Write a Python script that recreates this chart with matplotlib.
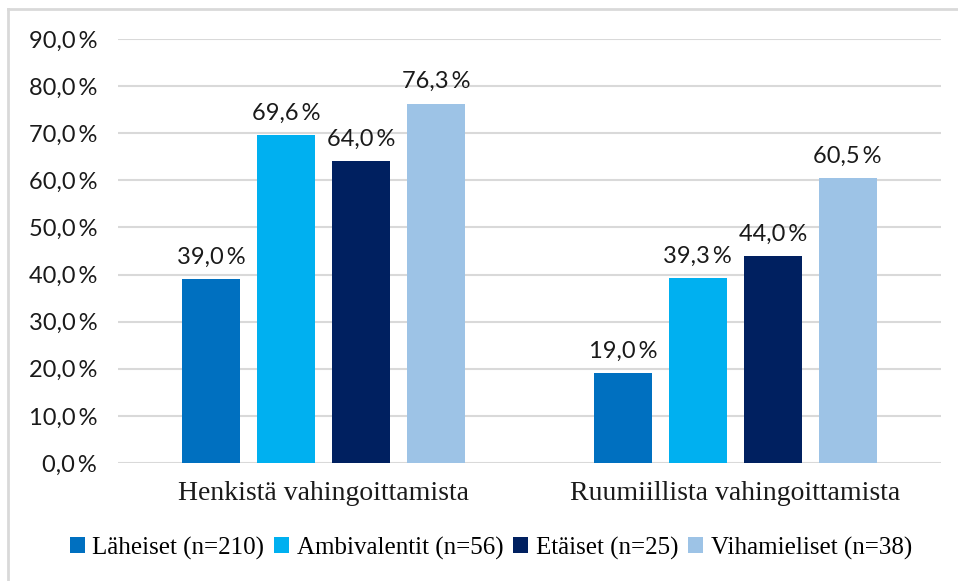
import matplotlib.pyplot as plt
from matplotlib.lines import Line2D
import numpy as np

categories = ['Henkistä vahingoittamista', 'Ruumiillista vahingoittamista']
series = ['Läheiset (n=210)', 'Ambivalentit (n=56)', 'Etäiset (n=25)', 'Vihamieliset (n=38)']
values = [
    [39.0, 19.0],
    [69.6, 39.3],
    [64.0, 44.0],
    [76.3, 60.5],
]
colors = ['#0070C0', '#00B0F0', '#002060', '#9DC3E6']
yticks = [0, 10, 20, 30, 40, 50, 60, 70, 80, 90]


def pct(v):
    return ('%.1f' % v).replace('.', ',') + '\u2009%'


sans = ['Lato', 'DejaVu Sans']
serif = ['Liberation Serif', 'DejaVu Serif']

fig = plt.figure(figsize=(9.58, 5.81), dpi=100)
ax = fig.add_axes([118 / 958, 1 - 463 / 581, 823 / 958, 424 / 581])

x = np.arange(len(categories))
width = 0.141
step = 0.182
for i, (name, vals, col) in enumerate(zip(series, values, colors)):
    pos = x + (i - 1.5) * step
    bars = ax.bar(pos, vals, width, color=col, label=name, zorder=3)
    for b, v in zip(bars, vals):
        ax.text(b.get_x() + b.get_width() / 2, v + 2.4, pct(v),
                ha='center', va='bottom', fontsize=17, family=sans, color='#1a1a1a')

ax.set_xlim(-0.5, 1.5)
ax.set_ylim(0, 90)
ax.set_yticks(yticks)
ax.set_yticklabels([pct(t) for t in yticks], family=sans, fontsize=17, color='#1a1a1a')
ax.set_xticks(x)
ax.set_xticklabels(categories, family=serif, fontsize=20, color='#1a1a1a')
ax.tick_params(axis='both', length=0)
ax.tick_params(axis='y', pad=15)
ax.tick_params(axis='x', pad=13)
ax.grid(axis='y', color='#d9d9d9', linewidth=1.5, zorder=0)
for s in ax.spines.values():
    s.set_visible(False)

handles, labels = ax.get_legend_handles_labels()
fig.legend(handles, labels, loc='center', bbox_to_anchor=(491 / 958, 1 - 548 / 581),
           ncol=4, frameon=False, prop={'family': serif, 'size': 18},
           handlelength=0.6, handleheight=0.6, handletextpad=0.3, columnspacing=0.4)

# outer frame (only top and left visible in the original crop)
fig.add_artist(Line2D([8 / 958, 8 / 958], [0, 1 - 9 / 581], color='#d9d9d9', lw=2,
                      transform=fig.transFigure))
fig.add_artist(Line2D([8 / 958, 1], [1 - 9 / 581, 1 - 9 / 581], color='#d9d9d9', lw=2,
                      transform=fig.transFigure))

plt.savefig('out.png', dpi=100)
plt.close()
